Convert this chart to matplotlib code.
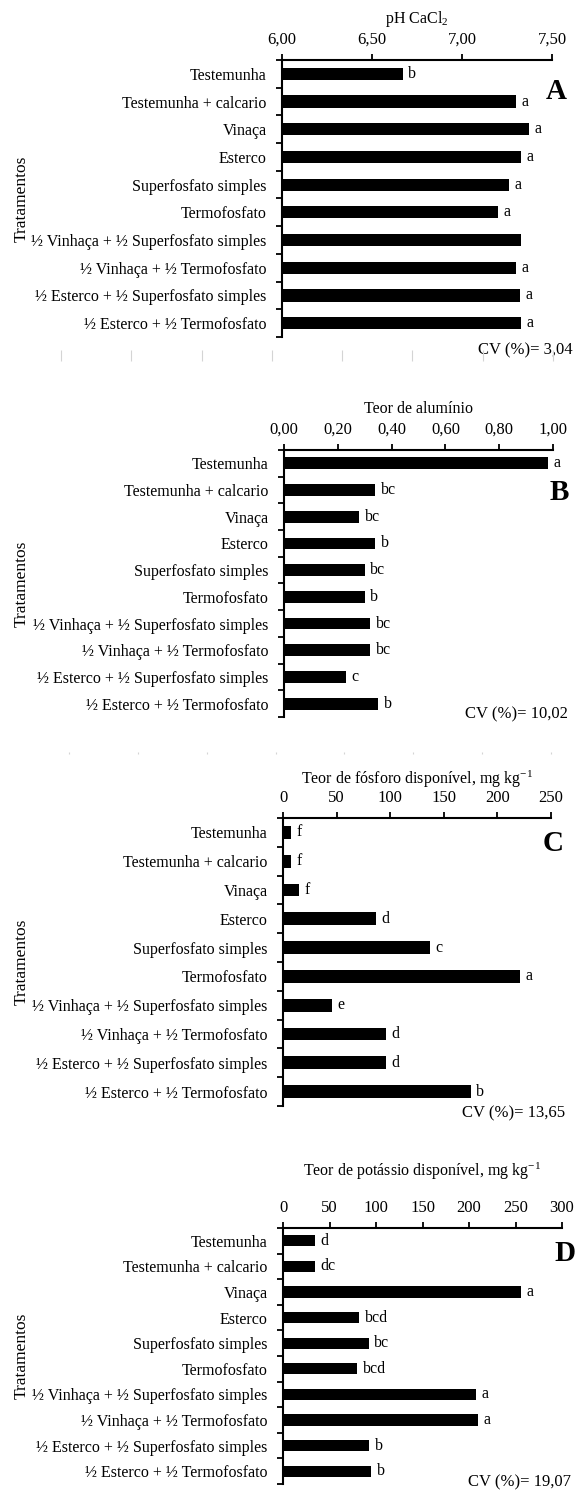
import numpy as np
import matplotlib
matplotlib.use("Agg")
import matplotlib.pyplot as plt
from matplotlib.ticker import FixedLocator, FuncFormatter

# ── Data ──────────────────────────────────────────────────────────────
tratamentos = [
    "Testemunha",
    "Testemunha + calcario",
    "Vinaça",
    "Esterco",
    "Superfosfato simples",
    "Termofosfato",
    "½ Vinhaça + ½ Superfosfato simples",
    "½ Vinhaça + ½ Termofosfato",
    "½ Esterco + ½ Superfosfato simples",
    "½ Esterco + ½ Termofosfato",
]

ph_vals = [6.67, 7.30, 7.37, 7.33, 7.26, 7.20, 7.33, 7.30, 7.32, 7.33]
ph_letters = ["b", "a", "a", "a", "a", "a", "", "a", "a", "a"]

al_vals = [0.98, 0.34, 0.28, 0.34, 0.30, 0.30, 0.32, 0.32, 0.23, 0.35]
al_letters = ["a", "bc", "bc", "b", "bc", "b", "bc", "bc", "c", "b"]

p_vals = [7, 7, 15, 87, 137, 221, 46, 96, 96, 175]
p_letters = ["f", "f", "f", "d", "c", "a", "e", "d", "d", "b"]

k_vals = [34, 34, 256, 82, 92, 80, 207, 210, 93, 95]
k_letters = ["d", "dc", "a", "bcd", "bc", "bcd", "a", "a", "b", "b"]

# ── Style ─────────────────────────────────────────────────────────────
plt.rcParams["font.family"] = ["Liberation Serif", "DejaVu Serif"]
plt.rcParams["mathtext.fontset"] = "custom"
plt.rcParams["mathtext.rm"] = "Liberation Serif"
plt.rcParams["mathtext.it"] = "Liberation Serif:italic"
plt.rcParams["font.size"] = 11

W, H = 581, 1490
fig = plt.figure(figsize=(W / 100, H / 100), dpi=100)


def px_axes(x0, x1, y0, y1):
    return fig.add_axes([x0 / W, 1 - y1 / H, (x1 - x0) / W, (y1 - y0) / H])


def comma2(v, pos):
    return f"{v:.2f}".replace(".", ",")


def intfmt(v, pos):
    return f"{v:.0f}"


panels = [
    # vals, letters, xmin, xmax, step, fmt, title, tag, box, labelpad, tag_xy, cv text, cv_xy
    (ph_vals, ph_letters, 6.0, 7.5, 0.5, comma2, "pH CaCl$_2$", "A",
     (282, 552, 60, 337), 6, (1.015, 0.888), "CV (%)= 3,04", (1.078, -0.047)),
    (al_vals, al_letters, 0.0, 1.0, 0.2, comma2, "Teor de alumínio", "B",
     (284, 553, 450, 717), 6, (1.025, 0.839), "CV (%)= 10,02", (1.056, 0.01)),
    (p_vals, p_letters, 0, 250, 50, intfmt, "Teor de fósforo disponível, mg kg$^{-1}$", "C",
     (283, 551, 818, 1106), 4, (1.009, 0.913), "CV (%)= 13,65", (1.052, -0.024)),
    (k_vals, k_letters, 0, 300, 50, intfmt, "Teor de potássio disponível, mg kg$^{-1}$", "D",
     (283, 562, 1228, 1484), 17, (1.011, 0.902), "CV (%)= 19,07", (1.032, 0.008)),
]

n = len(tratamentos)
ypos = np.arange(n)

for vals, letters, xmin, xmax, step, fmt, title, tag, box, lpad, tag_xy, cv, cv_xy in panels:
    ax = px_axes(*box)
    w = box[1] - box[0]
    vals = np.asarray(vals, dtype=float)
    ax.barh(ypos, vals - xmin, left=xmin, height=0.44, color="black")
    for y, v, lt in zip(ypos, vals, letters):
        if lt:
            ax.annotate(lt, (v, y), xytext=(4, 0), textcoords="offset points",
                        va="center", ha="left", fontsize=11.5)

    ax.set_xlim(xmin, xmax)
    ax.set_ylim(n - 0.5, -0.5)
    ax.xaxis.set_ticks_position("top")
    ax.xaxis.set_label_position("top")
    ax.set_xticks(np.arange(xmin, xmax + step / 2, step))
    ax.xaxis.set_major_formatter(FuncFormatter(fmt))
    ax.tick_params(axis="x", direction="out", length=4, width=1.3, pad=5, labelsize=12)
    ax.set_xlabel(title, fontsize=11.5, labelpad=lpad)

    ax.set_yticks(ypos)
    ax.set_yticklabels(tratamentos, fontsize=11.5)
    ax.yaxis.set_minor_locator(FixedLocator(np.arange(n + 1) - 0.5))
    ax.tick_params(axis="y", which="major", length=0, pad=11)
    ax.tick_params(axis="y", which="minor", direction="out", length=4, width=1.3)
    ax.set_ylabel("Tratamentos", fontsize=12.5)
    ax.yaxis.set_label_coords((30 - box[0]) / w, 0.5)

    for s in ["right", "bottom"]:
        ax.spines[s].set_visible(False)
    for s in ["top", "left"]:
        ax.spines[s].set_linewidth(1.5)

    ax.text(tag_xy[0], tag_xy[1], tag, transform=ax.transAxes, ha="center",
            va="center", fontsize=21, fontweight="bold")
    ax.text(cv_xy[0], cv_xy[1], cv, transform=ax.transAxes, ha="right",
            va="center", fontsize=12)

# faint leftover gridline ticks between the panels
for x0, x1, y0, y1, m, lw in [(61, 553, 350, 361, 8, 0.8), (69, 551, 752, 754, 8, 0.8)]:
    sep = px_axes(x0, x1, y0, y1)
    sep.set_xlim(0, 1)
    sep.set_xticks(np.linspace(0, 1, m))
    sep.set_yticks([])
    sep.tick_params(axis="x", direction="in", length=(y1 - y0) * 0.72, width=lw,
                    color="#d4d4d4", labelbottom=False)
    for s in sep.spines.values():
        s.set_visible(False)
    sep.patch.set_alpha(0)

fig.savefig("out.png", dpi=100)
